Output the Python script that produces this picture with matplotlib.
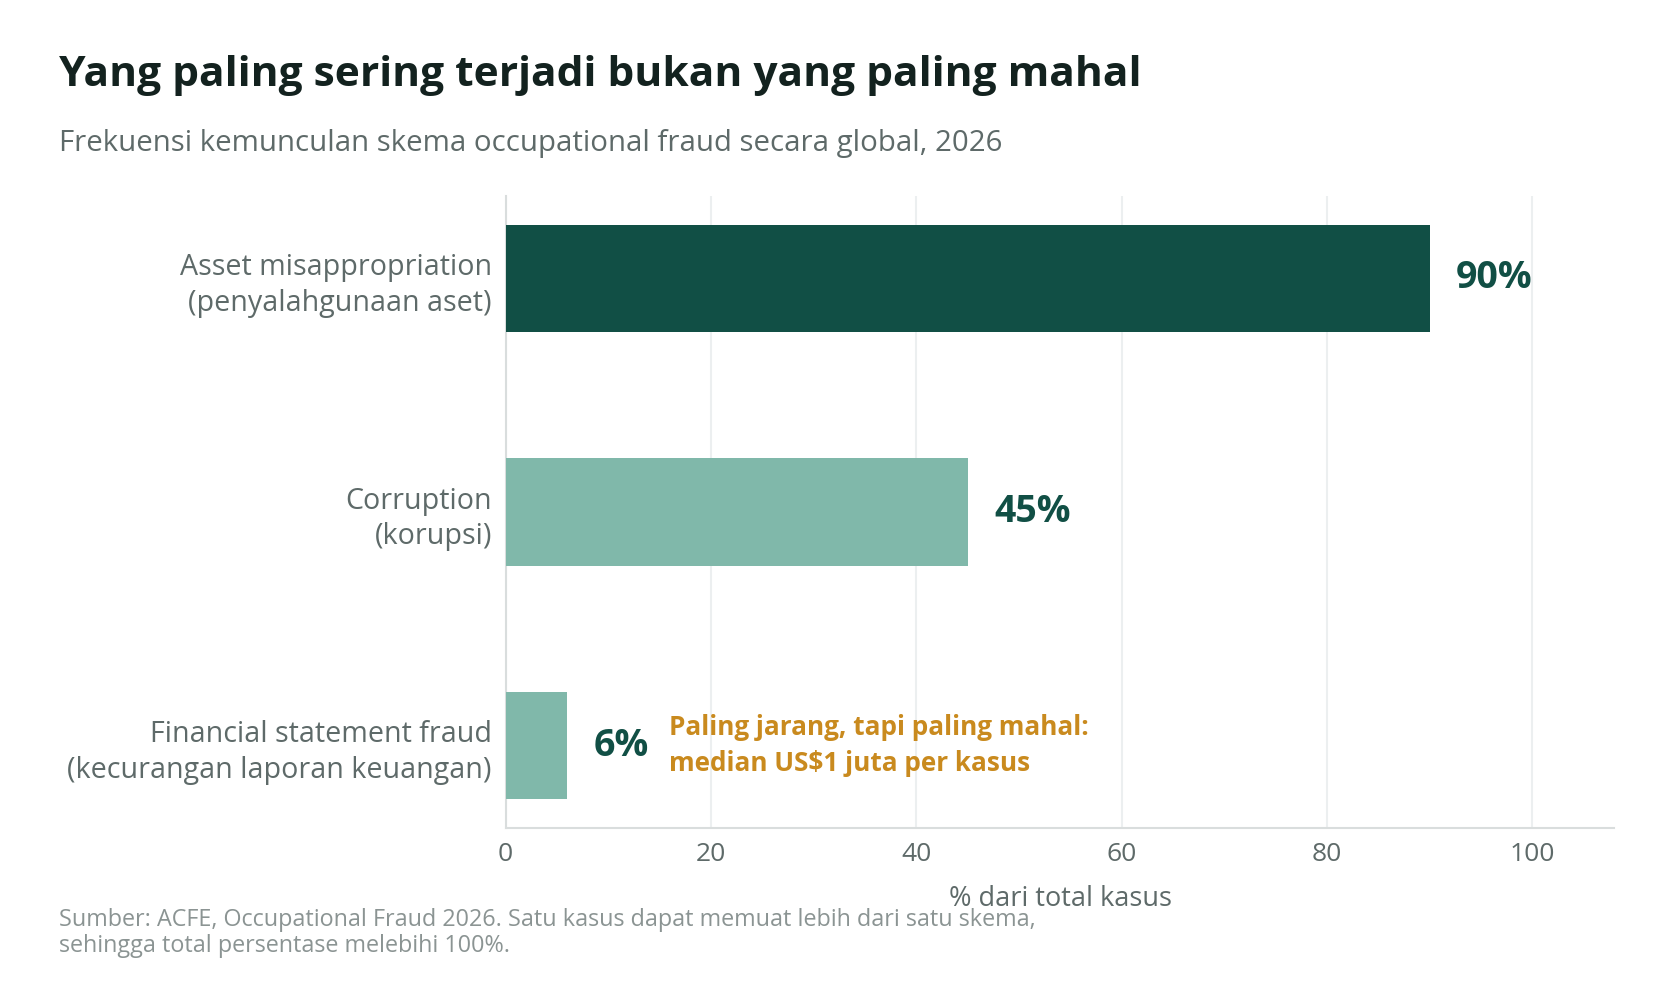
import numpy as np
from matplotlib import pyplot as plt

# data
categories = ["Asset misappropriation\n(penyalahgunaan aset)",
              "Corruption\n(korupsi)",
              "Financial statement fraud\n(kecurangan laporan keuangan)"]
values = [90, 45, 6]
value_labels = ["90%", "45%", "6%"]
xticks = [0, 20, 40, 60, 80, 100]

title = "Yang paling sering terjadi bukan yang paling mahal"
subtitle = "Frekuensi kemunculan skema occupational fraud secara global, 2026"
xlabel = "% dari total kasus"
note = "Paling jarang, tapi paling mahal:\nmedian US$1 juta per kasus"
source = ("Sumber: ACFE, Occupational Fraud 2026. Satu kasus dapat memuat lebih dari satu skema,\n"
          "sehingga total persentase melebihi 100%.")

plt.rcParams['font.family'] = ['Open Sans', 'DejaVu Sans']

dark = "#114f45"
light = "#80b8aa"
gold = "#c98a1e"
gray = "#5e6a69"

fig = plt.figure(figsize=(16.8, 10), dpi=100)
ax = fig.add_axes([0.301, 0.172, 0.660, 0.632])

y = np.arange(len(categories))
colors = [dark, light, light]
ax.barh(y, values, height=0.46, color=colors, zorder=3)

for i, (v, lab) in enumerate(zip(values, value_labels)):
    ax.annotate(lab, (v, i), xytext=(19, 0), textcoords="offset points",
                ha="left", va="center", fontsize=27, fontweight="bold", color=dark)

# catatan untuk financial statement fraud
ax.annotate(note, (values[2], 2), xytext=(73, 0), textcoords="offset points",
            ha="left", va="center", fontsize=18.8, fontweight="bold", color=gold,
            linespacing=1.45)

ax.set_xlim(0, 108)
ax.set_ylim(2.353, -0.353)
ax.set_yticks(y)
ax.set_yticklabels(categories, fontsize=20.6, color=gray, linespacing=1.3)
ax.set_xticks(xticks)
ax.tick_params(axis="x", labelsize=19, labelcolor=gray, length=0, pad=10)
ax.tick_params(axis="y", length=0, pad=10)
ax.set_xlabel(xlabel, fontsize=19.5, color=gray, labelpad=13)

ax.grid(axis="x", color="#eceff0", linewidth=1.5, zorder=0)
for s in ["top", "right"]:
    ax.spines[s].set_visible(False)
ax.spines["left"].set_color("#d9dddd")
ax.spines["bottom"].set_color("#d9dddd")
ax.spines["left"].set_linewidth(1.5)
ax.spines["bottom"].set_linewidth(1.5)

fig.text(0.035, 0.925, title, fontsize=30.6, fontweight="bold", color="#13221f",
         ha="left", va="center")
fig.text(0.035, 0.857, subtitle, fontsize=21.2, color=gray, ha="left", va="center")
fig.text(0.035, 0.067, source, fontsize=16.8, color="#8b9493", ha="left", va="center",
         linespacing=1.1)

fig.savefig("out.png", dpi=100, facecolor="white")
